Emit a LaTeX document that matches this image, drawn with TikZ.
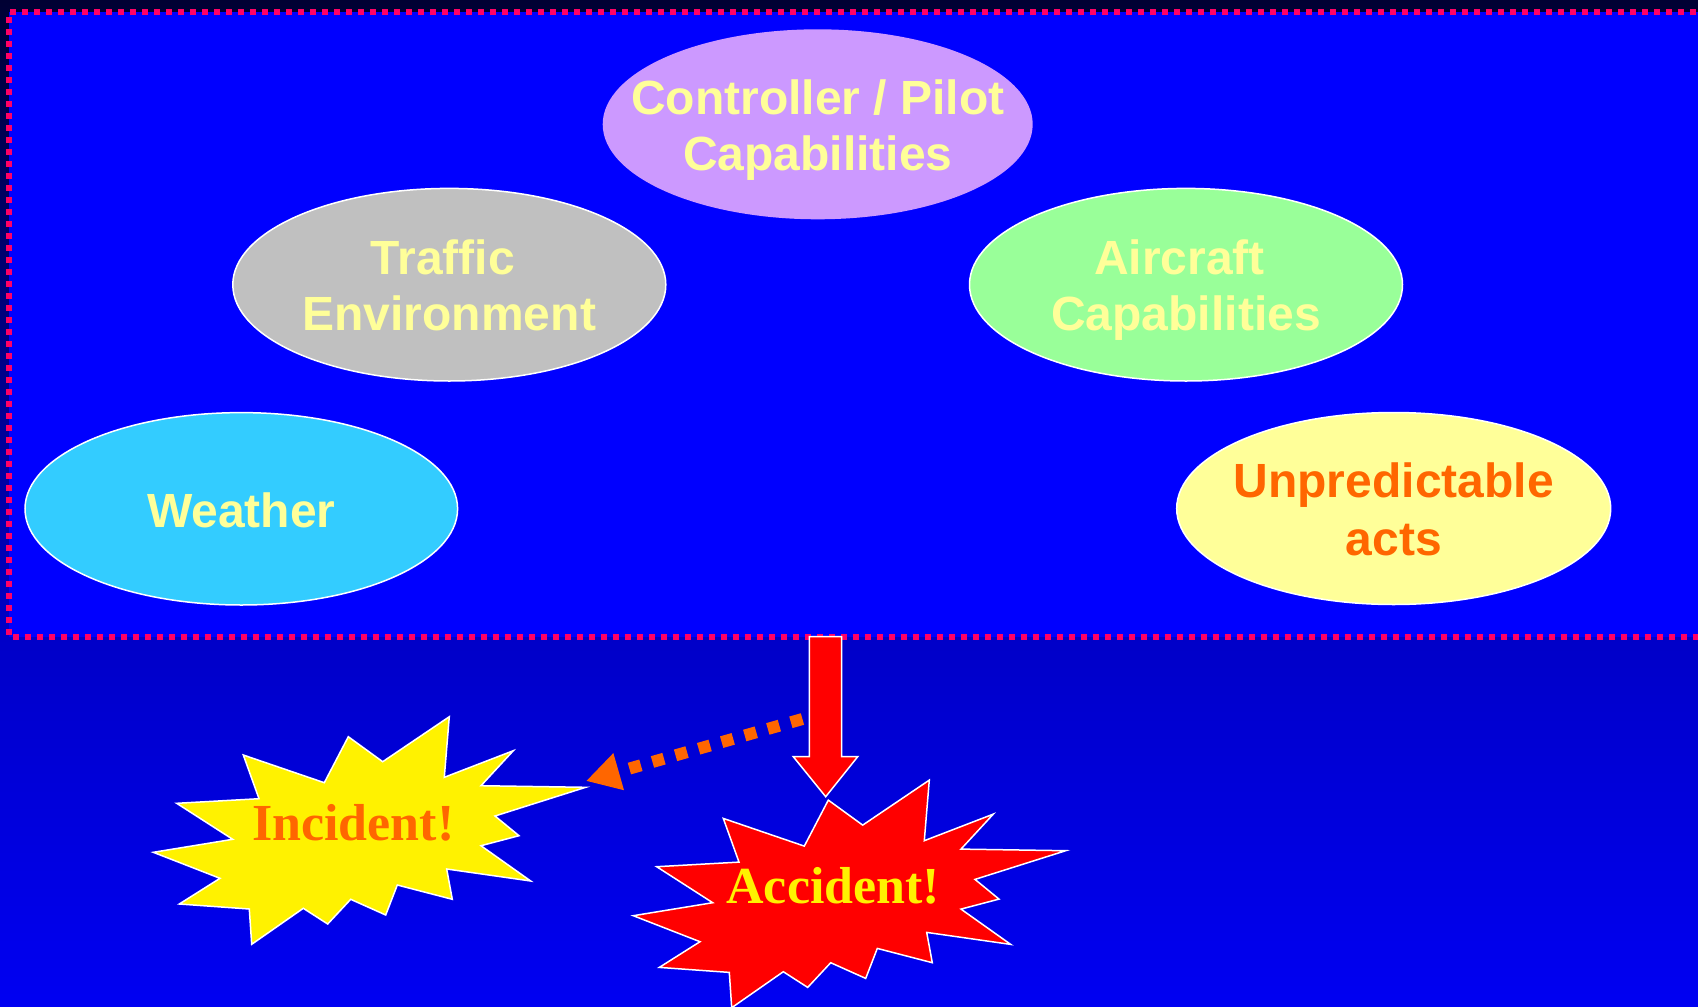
\documentclass[tikz,border=0pt]{standalone}
\usepackage{fontspec}
\setmainfont{Liberation Serif}
\setsansfont{Liberation Sans}
\usetikzlibrary{arrows.meta,calc}

\definecolor{bgtop}{HTML}{000033}
\definecolor{bgmid}{HTML}{0000C8}
\definecolor{bgbot}{HTML}{0000F2}
\definecolor{boxblue}{HTML}{0000FF}
\definecolor{dashpink}{HTML}{FF0066}
\definecolor{lavender}{HTML}{CC99FF}
\definecolor{silver}{HTML}{C0C0C0}
\definecolor{mint}{HTML}{99FF99}
\definecolor{skyblue}{HTML}{33CCFF}
\definecolor{paleyellow}{HTML}{FFFF99}
\definecolor{orangetxt}{HTML}{FF6600}

\tikzset{
  factor/.style={draw=white, line width=1.5pt},
  factortext/.style={font=\sffamily\bfseries\fontsize{48}{56}\selectfont, text=paleyellow,
    align=center, anchor=base, inner sep=0pt},
  bangtext/.style={font=\rmfamily\bfseries\fontsize{52}{60}\selectfont, anchor=base, inner sep=0pt},
  border/.style={draw=dashpink, line width=5.5pt, dash pattern=on 6pt off 6pt},
  redarrow/.style={fill=red, draw=white, line width=1.5pt, line join=miter},
  dotarrow/.style={draw=orangetxt, line width=12pt, dash pattern=on 12pt off 12pt,
    -{Triangle[length=34pt,width=36pt]}},
  bang/.pic={
    \draw[pic actions] (-196.7,22.3) -- (-117.3,9.3) -- (-173.3,-26.7) -- (-91,-31.3)
      -- (-106.7,-75) -- (-25.7,-47.3) -- (-1.7,-93.3) -- (32.7,-68.3) -- (99.3,-113.3)
      -- (94.3,-52.7) -- (163.3,-79.3) -- (131,-44.3) -- (235.7,-42.7) -- (145,-14)
      -- (169,5.7) -- (131,15.7) -- (180.7,51) -- (96.7,39) -- (102.3,69.3) -- (47.3,55)
      -- (35.7,85) -- (0.7,69.3) -- (-22.3,94) -- (-46.7,78.3) -- (-98.3,114.3)
      -- (-100.7,79) -- (-170.7,74) -- (-130,48.3) -- cycle;
  }
}

\begin{document}
\begin{tikzpicture}[x=1pt, y=-1pt]
      \useasboundingbox (0,0) rectangle (1698,1007);
      \clip (0,0) rectangle (1698,1007);

      % slide background
      \fill[top color=bgtop, bottom color=bgmid] (0,0) rectangle (1698,637);
      \fill[top color=bgmid, bottom color=bgbot] (0,637) rectangle (1698,1007);

      \fill[boxblue] (9,12) rectangle (1720,637);
      \draw[border] (1720,12) -- (9,12) -- (9,637) -- (1720,637);

      \fill[lavender] (817.7,124.3) ellipse (215 and 95);
      \draw[factor, fill=silver] (449.3,284.7) ellipse (216.5 and 96.3);
      \draw[factor, fill=mint] (1186,284.7) ellipse (216.5 and 96.3);
      \draw[factor, fill=skyblue] (241.3,508.8) ellipse (216.3 and 96.2);
      \draw[factor, fill=paleyellow] (1393.7,508.5) ellipse (217 and 96);

      % base anchor sits on the last line
      \node[factortext] at (817.7,170.3) (ctrl) {Controller / Pilot\\Capabilities};
      \node[factortext] at (449.3,330.3) (traffic) {Traffic\kern13pt\\Environment};
      \node[factortext] at (1186,330.3) (aircraft) {Aircraft\kern13pt\\Capabilities};
      \node[factortext] at (241.3,527.7) (weather) {Weather};
      \node[factortext, text=orangetxt, font=\sffamily\bfseries\fontsize{48}{58.5}\selectfont]
        at (1393.7,555.8) (unpred) {Unpredictable\\acts};

      \pic[draw=white, line width=1.5pt, fill=yellow] at (350,830) {bang};
      \pic[draw=white, line width=1.5pt, fill=red] at (830,893.4) {bang};

      \coordinate (shafttop) at (825.5,636.7);
      \coordinate (branch) at (825.5,712.4);
      \coordinate (incidenttip) at (586,781);

      \draw[dotarrow] (branch) -- (incidenttip);
      \draw[redarrow] (shafttop) ++(-16.2,0) -- ++(0,120) -- ++(-16,0) -- ++(32.4,40)
        -- ++(32,-40) -- ++(-16,0) -- ++(0,-120) -- cycle;

      \node[bangtext, text=orangetxt] at (353.3,840) (incident) {Incident!};
      \node[bangtext, text=yellow] at (833.3,903.3) (accident) {Accident!};
\end{tikzpicture}
\end{document}
